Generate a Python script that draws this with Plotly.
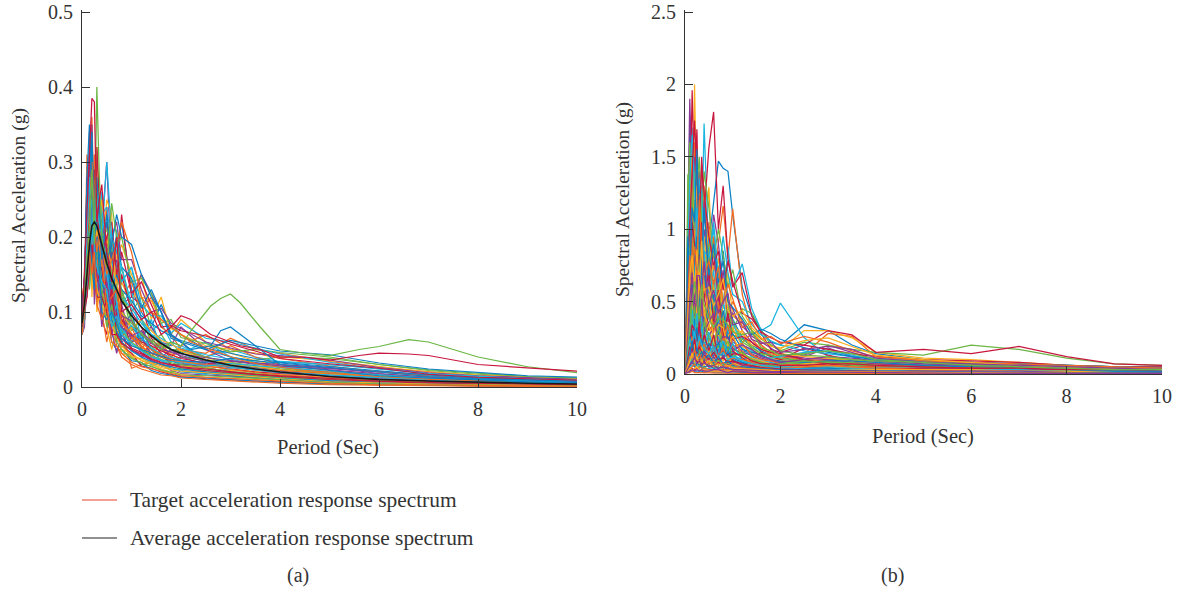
import plotly.graph_objects as go

PERIOD_A = [0,.05,.1,.15,.2,.25,.3,.4,.5,.6,.7,.8,1,1.2,1.4,1.6,1.8,2,2.5,3,3.5,4,5,6,7,8,9,10]
SERIES_A = [
 [.07,.1,.21,.3,.2,.18,.27,.17,.22,.16,.18,.22,.13,.1,.08,.11,.08,.07,.05,.04,.035,.03,.025,.02,.015,.012,.01,.009],
 [.08,.12,.31,.24,.36,.22,.32,.15,.18,.12,.1,.08,.025,.03,.032,.03,.025,.022,.02,.017,.014,.012,.008,.006,.005,.004,.003,.003],
 [.07,.11,.19,.28,.21,.25,.17,.24,.13,.15,.12,.14,.11,.15,.09,.12,.07,.09,.06,.045,.035,.028,.02,.014,.01,.008,.006,.005],
 [.11,.13,.2,.25,.17,.28,.19,.21,.3,.15,.17,.11,.12,.15,.125,.1,.07,.06,.03,.028,.025,.02,.016,.012,.009,.007,.005,.004],
 [.1,.15,.22,.18,.31,.17,.23,.19,.14,.2,.13,.16,.1,.12,.08,.06,.05,.05,.04,.03,.028,.024,.018,.012,.009,.007,.005,.004],
 [.07,.09,.26,.2,.15,.27,.16,.26,.15,.12,.21,.14,.16,.09,.075,.085,.06,.055,.04,.05,.04,.034,.03,.025,.018,.014,.012,.01],
 [.09,.12,.18,.32,.26,.14,.32,.18,.24,.11,.14,.23,.12,.11,.065,.05,.04,.035,.03,.026,.022,.019,.015,.011,.008,.006,.005,.004],
 [.07,.1,.2,.23,.28,.21,.15,.22,.12,.17,.1,.09,.08,.065,.05,.045,.035,.03,.024,.02,.016,.013,.01,.007,.005,.004,.003,.003],
 [.08,.14,.16,.27,.19,.24,.28,.14,.2,.1,.16,.12,.14,.1,.12,.08,.07,.05,.04,.055,.04,.03,.022,.017,.013,.01,.008,.007],
 [.12,.14,.23,.15,.22,.3,.18,.16,.25,.23,.11,.1,.07,.055,.045,.03,.027,.025,.024,.022,.02,.016,.012,.009,.007,.005,.004,.004],
 [.08,.12,.27,.22,.35,.18,.21,.13,.19,.14,.12,.08,.09,.07,.08,.06,.055,.08,.05,.035,.03,.028,.024,.02,.016,.013,.01,.008],
 [.09,.1,.15,.24,.16,.23,.14,.2,.11,.16,.09,.13,.075,.09,.06,.07,.05,.04,.035,.03,.026,.022,.017,.013,.01,.008,.006,.005],
 [.07,.13,.19,.34,.23,.16,.26,.24,.15,.09,.13,.11,.13,.06,.09,.05,.06,.045,.06,.04,.033,.026,.019,.016,.012,.01,.008,.006],
 [.08,.11,.21,.17,.25,.2,.12,.17,.2,.12,.08,.15,.1,.08,.05,.04,.035,.032,.026,.02,.017,.014,.009,.006,.004,.003,.002,.002],
 [.1,.14,.25,.3,.14,.26,.19,.12,.16,.18,.1,.08,.06,.07,.04,.035,.03,.028,.02,.018,.014,.012,.008,.006,.004,.003,.003,.002],
 [.07,.09,.14,.2,.27,.15,.24,.15,.11,.13,.15,.07,.08,.05,.07,.055,.04,.05,.045,.065,.05,.045,.034,.026,.02,.015,.012,.01],
 [.09,.12,.24,.19,.21,.29,.13,.19,.1,.08,.12,.09,.055,.05,.04,.05,.045,.035,.028,.024,.02,.017,.012,.009,.006,.005,.004,.003],
 [.07,.08,.17,.26,.18,.22,.15,.11,.14,.07,.1,.06,.07,.045,.035,.03,.022,.018,.016,.014,.012,.01,.007,.005,.003,.002,.002,.001],
 [.08,.11,.22,.16,.33,.2,.24,.21,.13,.15,.07,.13,.09,.06,.055,.04,.033,.04,.035,.03,.036,.04,.038,.03,.022,.017,.013,.01],
 [.11,.13,.16,.22,.24,.17,.2,.14,.17,.09,.14,.08,.06,.075,.05,.035,.03,.026,.022,.017,.015,.012,.009,.007,.005,.004,.003,.003],
 [.07,.1,.28,.18,.3,.26,.16,.13,.09,.19,.09,.1,.05,.04,.06,.045,.03,.03,.028,.024,.02,.018,.014,.011,.008,.006,.005,.004],
 [.09,.12,.13,.29,.2,.14,.22,.1,.18,.1,.11,.07,.1,.05,.035,.028,.025,.02,.018,.015,.012,.01,.007,.004,.003,.002,.002,.002],
 [.08,.11,.2,.14,.17,.31,.11,.18,.12,.13,.06,.09,.065,.055,.04,.06,.04,.055,.07,.05,.045,.038,.028,.02,.015,.012,.009,.008],
 [.07,.1,.18,.25,.13,.19,.17,.16,.08,.11,.08,.05,.045,.035,.03,.024,.02,.017,.013,.012,.01,.008,.005,.004,.003,.002,.002,.001],
 [.1,.13,.26,.16,.28,.13,.25,.12,.1,.14,.07,.11,.06,.065,.045,.04,.05,.04,.03,.026,.024,.02,.016,.012,.01,.007,.006,.005],
 [.08,.09,.15,.21,.22,.18,.13,.15,.09,.08,.09,.06,.04,.03,.028,.022,.02,.024,.022,.018,.015,.013,.01,.007,.005,.004,.003,.003],
 [.09,.11,.23,.13,.19,.25,.14,.11,.13,.07,.06,.08,.05,.04,.03,.03,.025,.022,.017,.025,.03,.034,.03,.024,.018,.014,.011,.009],
 [.07,.12,.12,.18,.16,.16,.2,.09,.07,.12,.07,.055,.045,.028,.025,.02,.017,.014,.011,.009,.008,.007,.004,.003,.002,.002,.001,.001],
 [.08,.1,.19,.24,.15,.21,.12,.13,.1,.06,.05,.05,.035,.033,.022,.018,.016,.013,.012,.01,.009,.006,.004,.003,.002,.002,.001,.001],
 [.07,.09,.14,.17,.2,.12,.18,.1,.06,.09,.055,.04,.03,.024,.02,.016,.015,.012,.01,.008,.006,.005,.003,.002,.002,.001,.001,.001],
 [.09,.13,.17,.28,.12,.23,.1,.15,.08,.05,.08,.045,.04,.038,.033,.028,.024,.028,.026,.03,.028,.024,.02,.015,.011,.008,.006,.005],
 [.08,.1,.21,.15,.26,.11,.16,.08,.12,.075,.045,.07,.05,.042,.036,.03,.028,.03,.03,.034,.032,.03,.026,.018,.013,.01,.008,.007],
 [.09,.13,.18,.26,.2,.17,.21,.19,.16,.14,.12,.1,.085,.072,.062,.055,.05,.047,.04,.033,.028,.024,.018,.013,.01,.008,.006,.005],
 [.08,.12,.2,.22,.24,.19,.18,.17,.15,.17,.11,.12,.105,.085,.07,.065,.056,.052,.043,.037,.031,.027,.02,.015,.011,.009,.007,.006],
 [.07,.11,.16,.19,.22,.24,.2,.16,.13,.12,.13,.09,.07,.06,.055,.048,.043,.038,.032,.027,.023,.02,.015,.011,.008,.006,.005,.004],
 [.1,.14,.19,.17,.19,.21,.26,.2,.17,.13,.15,.13,.115,.095,.085,.075,.068,.062,.052,.045,.038,.033,.027,.021,.016,.012,.01,.008],
 [.08,.1,.17,.23,.18,.16,.15,.14,.12,.1,.09,.085,.067,.053,.046,.04,.036,.033,.028,.023,.019,.016,.012,.009,.007,.005,.004,.004],
 [.07,.12,.22,.2,.17,.2,.23,.15,.19,.16,.14,.1,.078,.09,.075,.062,.058,.048,.037,.032,.027,.023,.017,.014,.011,.009,.007,.006],
 [.09,.1,.14,.18,.25,.23,.17,.18,.14,.11,.1,.095,.088,.07,.058,.052,.046,.042,.034,.029,.025,.021,.014,.01,.008,.006,.005,.004],
 [.08,.13,.24,.21,.19,.15,.19,.12,.11,.1,.08,.075,.06,.05,.042,.037,.032,.03,.025,.021,.018,.015,.011,.008,.006,.005,.004,.003],
 [.07,.09,.13,.16,.21,.18,.16,.13,.16,.09,.11,.07,.082,.066,.052,.044,.04,.036,.03,.026,.022,.019,.015,.012,.009,.007,.006,.005],
 [.11,.15,.18,.24,.17,.22,.14,.16,.1,.13,.07,.065,.052,.046,.038,.033,.029,.026,.022,.019,.016,.014,.01,.007,.005,.004,.003,.003],
 [.08,.11,.15,.2,.23,.2,.22,.14,.12,.09,.075,.06,.048,.04,.034,.03,.027,.024,.02,.016,.014,.011,.008,.005,.004,.003,.003,.002],
 [.09,.12,.25,.15,.16,.24,.2,.17,.11,.12,.13,.085,.072,.058,.05,.043,.038,.034,.03,.028,.025,.022,.018,.013,.01,.007,.006,.005],
 [.07,.1,.16,.22,.14,.17,.13,.11,.09,.085,.065,.055,.042,.036,.031,.026,.023,.021,.019,.016,.013,.011,.007,.005,.004,.003,.002,.002],
 [.1,.12,.2,.19,.27,.16,.15,.12,.14,.1,.09,.08,.068,.075,.06,.05,.047,.044,.039,.035,.031,.028,.023,.017,.012,.009,.008,.007],
 [.08,.11,.17,.13,.18,.14,.19,.13,.08,.11,.06,.05,.038,.032,.027,.023,.019,.016,.015,.013,.011,.009,.006,.004,.003,.003,.002,.002],
 [.09,.13,.22,.27,.21,.19,.16,.14,.13,.08,.095,.07,.058,.048,.04,.036,.034,.032,.028,.031,.029,.026,.021,.016,.012,.01,.008,.006],
 [.07,.1,.12,.16,.19,.15,.12,.12,.1,.07,.07,.058,.05,.044,.037,.032,.03,.027,.024,.02,.017,.015,.011,.008,.006,.005,.004,.003],
 [.08,.14,.19,.21,.16,.13,.21,.1,.09,.1,.085,.065,.055,.05,.045,.041,.037,.035,.033,.038,.035,.032,.025,.019,.014,.011,.009,.008],
 [.09,.11,.15,.18,.15,.18,.11,.09,.11,.06,.055,.045,.033,.027,.024,.021,.018,.015,.013,.011,.01,.008,.005,.003,.003,.002,.002,.001],
 [.1,.12,.22,.19,.28,.23,.2,.25,.19,.21,.17,.19,.15,.12,.115,.09,.078,.07,.055,.05,.046,.04,.035,.028,.02,.016,.013,.011],
 [.08,.13,.26,.31,.22,.27,.24,.22,.18,.2,.22,.17,.17,.13,.1,.105,.085,.078,.06,.052,.044,.042,.036,.026,.019,.015,.012,.01],
 [.09,.11,.19,.23,.3,.2,.26,.2,.21,.18,.19,.2,.14,.145,.125,.085,.09,.066,.058,.047,.05,.046,.04,.03,.023,.018,.014,.012],
 [.07,.1,.24,.28,.19,.25,.21,.23,.24,.19,.16,.14,.16,.11,.095,.095,.072,.085,.065,.06,.052,.044,.033,.024,.018,.014,.011,.009],
 [.08,.12,.17,.26,.25,.29,.23,.18,.2,.22,.15,.18,.125,.14,.11,.08,.082,.075,.068,.057,.048,.038,.031,.025,.017,.013,.011,.009],
 [.1,.14,.21,.2,.34,.22,.28,.17,.23,.17,.2,.16,.145,.105,.13,.1,.065,.06,.05,.062,.055,.048,.043,.032,.024,.019,.015,.013],
]
MEAN_A = [.085,.11,.15,.19,.215,.22,.215,.19,.165,.145,.13,.115,.095,.08,.068,.058,.05,.045,.036,.029,.024,.02,.014,.01,.008,.006,.005,.004]

# Curves with distinct features, read on a finer period grid
PERIOD_A_FINE = [0,.05,.1,.15,.2,.25,.3,.35,.4,.5,.6,.7,.8,1,1.2,1.4,1.6,1.8,2,2.2,2.6,2.8,3,3.2,3.6,4,4.5,5,5.6,6,6.6,7,8,9,10]
CYAN_A = [.08,.12,.2,.27,.24,.2,.25,.22,.2,.3,.2,.18,.16,.11,.09,.07,.06,.05,.045,.04,.035,.03,.028,.026,.024,.02,.018,.016,.014,.012,.01,.009,.007,.006,.005]
GREEN_A = [.08,.13,.17,.21,.29,.19,.4,.28,.2,.16,.245,.2,.12,.09,.07,.06,.05,.06,.055,.075,.108,.118,.124,.112,.08,.05,.045,.042,.05,.054,.063,.06,.04,.027,.019]
CRIMSON_A = [.08,.16,.24,.3,.385,.38,.22,.25,.27,.18,.14,.2,.1,.11,.09,.1,.07,.08,.095,.09,.07,.065,.06,.055,.05,.04,.04,.036,.042,.045,.044,.042,.03,.025,.021]
BLUE_A = [.09,.14,.28,.35,.27,.2,.22,.25,.2,.17,.19,.23,.2,.19,.15,.12,.1,.07,.06,.05,.055,.075,.08,.07,.05,.03,.026,.022,.018,.015,.013,.012,.009,.007,.006]
ORANGE_A = [.07,.1,.2,.24,.3,.22,.18,.21,.2,.15,.17,.19,.22,.18,.12,.1,.09,.08,.07,.06,.05,.045,.04,.036,.03,.026,.022,.02,.016,.013,.011,.01,.008,.006,.005]

PERIOD_B = [0,.03,.06,.1,.15,.2,.25,.3,.35,.4,.5,.6,.7,.8,.9,1,1.2,1.4,1.6,1.8,2,2.5,3,3.5,4,5,6,7,8,9,10]
SERIES_B = [
 [0,.3,.8,1.7,1.2,.9,1.5,1.0,.7,1.1,.9,1.2,1.47,1.42,1.4,1.1,.6,.4,.3,.22,.2,.34,.3,.2,.14,.1,.08,.07,.06,.05,.04],
 [0,.2,.5,1.0,1.4,1.1,.7,1.2,.9,.6,1.05,.7,.9,1.16,.8,1.14,.55,.3,.2,.15,.12,.14,.28,.26,.12,.09,.08,.06,.05,.04,.03],
 [0,.4,.9,1.3,.8,2.0,1.1,.8,1.3,.9,1.29,.6,.8,.5,.7,.4,.35,.3,.22,.2,.17,.3,.3,.25,.15,.11,.1,.08,.06,.05,.04],
 [0,.3,1.1,1.9,1.3,1.0,.6,1.4,.8,1.0,.7,1.1,.9,.6,.5,.45,.3,.22,.15,.12,.1,.13,.2,.15,.1,.08,.07,.05,.04,.03,.03],
 [0,.5,1.38,.9,.7,1.2,.9,.5,1.1,.6,.85,.5,.3,.4,.25,.3,.45,.42,.3,.2,.16,.22,.2,.17,.15,.13,.2,.17,.11,.07,.06],
 [0,.2,.6,1.2,1.7,.8,1.2,.7,.9,1.73,.8,1.0,.6,.45,.88,.6,.76,.45,.3,.34,.49,.25,.12,.1,.09,.08,.07,.07,.06,.05,.05],
 [0,.3,.7,1.1,1.96,1.3,1.69,.9,1.5,1.1,1.56,1.81,1.0,1.3,.8,.6,.7,.4,.28,.17,.15,.2,.3,.27,.15,.17,.14,.19,.12,.07,.06],
 [0,.2,.5,.8,1.1,.6,1.0,1.3,.7,.5,.75,.9,.55,.85,.5,.38,.25,.2,.16,.13,.11,.09,.08,.07,.06,.05,.04,.04,.03,.03,.02],
 [0,.15,.4,.9,.6,1.0,.7,.5,.9,.8,.45,.6,.7,.35,.4,.3,.22,.28,.2,.12,.1,.08,.07,.06,.05,.06,.07,.06,.05,.04,.03],
 [0,.3,.65,.5,1.25,.75,.55,1.15,.6,.95,.6,.4,.5,.3,.38,.25,.3,.17,.13,.1,.09,.07,.06,.05,.05,.04,.04,.03,.03,.02,.02],
 [0,.1,.3,.7,.9,.5,.8,.6,.4,.7,.55,.65,.3,.42,.33,.2,.16,.14,.11,.09,.08,.12,.18,.12,.07,.05,.04,.03,.03,.02,.02],
 [0,.25,.55,.85,.45,.95,.4,.75,.5,.35,.65,.3,.4,.28,.3,.37,.22,.18,.14,.1,.08,.07,.06,.05,.04,.03,.03,.02,.02,.02,.01],
 [0,.15,.35,.6,.75,.35,.65,.45,.7,.3,.4,.5,.25,.33,.2,.22,.18,.12,.09,.08,.06,.05,.05,.05,.04,.04,.03,.03,.02,.02,.02],
 [0,.2,.45,.3,.65,.55,.3,.85,.35,.55,.3,.35,.45,.2,.26,.18,.14,.1,.15,.12,.1,.18,.13,.09,.07,.06,.05,.04,.03,.03,.02],
 [0,.1,.25,.5,.35,.7,.5,.3,.6,.25,.5,.25,.3,.18,.3,.15,.12,.11,.08,.07,.05,.04,.04,.03,.03,.03,.02,.02,.02,.01,.01],
 [0,.12,.3,.4,.55,.3,.45,.55,.25,.45,.22,.38,.2,.27,.15,.2,.1,.09,.07,.06,.06,.05,.04,.04,.03,.03,.02,.02,.02,.01,.01],
 [0,.08,.2,.35,.25,.5,.25,.4,.3,.2,.35,.18,.28,.14,.22,.12,.16,.08,.06,.05,.05,.07,.09,.07,.05,.04,.03,.03,.02,.02,.01],
 [0,.1,.18,.28,.4,.22,.38,.2,.35,.3,.15,.25,.13,.2,.12,.25,.12,.07,.05,.05,.04,.03,.03,.03,.02,.02,.02,.01,.01,.01,.01],
 [0,.06,.15,.22,.18,.33,.18,.28,.15,.25,.18,.12,.2,.1,.18,.09,.07,.1,.06,.04,.04,.03,.03,.02,.02,.02,.01,.01,.01,.01,.01],
 [0,.08,.12,.25,.3,.15,.27,.13,.22,.12,.22,.1,.16,.24,.08,.14,.08,.06,.04,.04,.03,.03,.04,.04,.03,.03,.03,.02,.02,.02,.01],
 [0,.05,.1,.18,.14,.25,.12,.2,.1,.18,.1,.15,.08,.12,.16,.08,.06,.05,.04,.03,.03,.02,.02,.02,.02,.01,.01,.01,.01,.01,.01],
 [0,.04,.09,.13,.2,.1,.16,.11,.17,.08,.14,.07,.11,.07,.1,.06,.05,.04,.03,.03,.02,.02,.02,.02,.01,.01,.01,.01,.01,.01,.01],
 [0,.05,.07,.1,.12,.18,.09,.14,.07,.12,.06,.1,.14,.19,.13,.1,.05,.09,.07,.05,.04,.04,.05,.06,.05,.04,.03,.03,.02,.02,.01],
 [0,.03,.06,.09,.15,.08,.12,.06,.1,.06,.09,.05,.09,.05,.07,.05,.12,.07,.05,.03,.03,.02,.02,.01,.01,.01,.01,.01,.01,.005,.005],
 [0,.04,.05,.07,.1,.13,.07,.1,.05,.08,.05,.07,.04,.06,.04,.04,.03,.03,.03,.02,.02,.02,.01,.01,.01,.01,.01,.01,.005,.005,.005],
 [0,.02,.04,.06,.08,.06,.09,.05,.07,.04,.06,.04,.05,.03,.04,.03,.03,.02,.02,.02,.02,.01,.01,.01,.01,.01,.005,.005,.005,.005,.005],
 [0,.02,.03,.05,.06,.05,.06,.04,.05,.03,.04,.03,.03,.03,.03,.02,.02,.02,.02,.01,.01,.01,.01,.01,.005,.005,.005,.005,.004,.004,.003],
 [0,.02,.02,.03,.04,.03,.04,.03,.03,.02,.03,.02,.02,.02,.02,.02,.01,.01,.01,.01,.01,.01,.005,.005,.005,.004,.004,.003,.003,.002,.002],
 [0,.01,.02,.02,.03,.02,.02,.02,.02,.01,.02,.01,.01,.01,.01,.01,.01,.01,.005,.005,.005,.005,.004,.004,.003,.003,.002,.002,.002,.002,.001],
 [0,.01,.01,.01,.02,.01,.01,.01,.01,.01,.01,.01,.005,.005,.005,.005,.005,.004,.004,.004,.003,.003,.003,.002,.002,.002,.002,.001,.001,.001,.001],
 [0,.2,.3,.45,.3,.85,.42,.5,.65,.42,.32,.45,.23,.35,.26,.32,.19,.15,.12,.11,.09,.1,.11,.08,.08,.07,.06,.05,.04,.04,.03],
 [0,.15,.25,.32,.5,.28,.6,.36,.48,.33,.27,.31,.36,.24,.3,.24,.15,.13,.1,.09,.07,.06,.06,.06,.06,.05,.05,.04,.03,.03,.02],
 [0,.08,.16,.24,.36,.42,.23,.32,.22,.38,.2,.24,.18,.3,.17,.17,.14,.1,.08,.06,.06,.08,.1,.1,.08,.07,.05,.04,.04,.03,.02],
 [0,.12,.22,.42,.27,.36,.33,.25,.42,.17,.26,.16,.26,.16,.21,.13,.1,.12,.09,.08,.07,.05,.05,.04,.04,.03,.03,.03,.02,.02,.02],
 [0,.06,.13,.19,.28,.2,.3,.17,.27,.15,.2,.2,.12,.16,.13,.16,.11,.07,.06,.05,.05,.04,.04,.03,.03,.02,.02,.02,.02,.01,.01],
 [0,.1,.2,.15,.24,.38,.16,.24,.14,.22,.13,.13,.17,.12,.2,.11,.08,.06,.05,.06,.08,.1,.07,.05,.04,.03,.03,.02,.02,.02,.01],
 [0,.35,.95,1.5,1.0,1.6,.8,1.25,.95,1.3,.7,.95,.45,.65,.4,.5,.36,.24,.17,.14,.12,.1,.09,.07,.07,.06,.05,.05,.04,.03,.03],
 [0,.25,.7,1.15,1.55,.7,1.4,.6,1.2,.75,1.0,.55,.75,.38,.55,.33,.28,.2,.18,.16,.14,.12,.11,.1,.08,.07,.06,.05,.05,.04,.04],
 [0,.4,1.0,.75,1.35,1.5,.85,1.1,.55,1.2,.6,.85,.5,.72,.36,.42,.33,.26,.22,.18,.13,.11,.1,.08,.07,.06,.06,.05,.04,.04,.03],
 [0,.18,.55,.95,.7,1.2,1.05,.65,1.0,.65,.9,.42,.62,.3,.48,.27,.24,.19,.14,.13,.11,.09,.08,.08,.06,.05,.05,.04,.04,.03,.03],
 [0,.28,.6,1.25,.85,.65,1.15,.95,.55,.85,.5,.72,.35,.52,.28,.35,.2,.16,.12,.11,.12,.15,.16,.13,.09,.07,.06,.05,.04,.03,.03],
 [0,.22,.75,.6,1.05,.9,.6,.8,1.05,.5,.72,.36,.58,.25,.42,.24,.26,.22,.17,.15,.14,.1,.07,.06,.05,.05,.04,.04,.03,.03,.02],
 [0,.32,.42,.78,.55,.8,.95,.42,.78,.72,.38,.55,.27,.44,.24,.28,.17,.15,.13,.1,.09,.08,.09,.09,.08,.06,.05,.04,.04,.03,.03],
 [0,.13,.38,.55,.95,.45,.72,.62,.4,.62,.42,.28,.48,.22,.34,.19,.21,.13,.1,.09,.07,.06,.06,.05,.05,.04,.04,.03,.03,.02,.02],
 [0,.17,.28,.65,.42,.62,.35,.7,.45,.4,.56,.22,.34,.32,.19,.26,.13,.11,.09,.07,.06,.05,.05,.04,.04,.03,.03,.02,.02,.02,.02],
 [0,.09,.33,.38,.6,.4,.55,.26,.52,.28,.36,.42,.21,.26,.25,.16,.2,.17,.12,.1,.08,.1,.12,.11,.09,.07,.06,.05,.04,.03,.02],
 [0,.14,.24,.48,.33,.47,.29,.46,.2,.36,.25,.2,.32,.17,.23,.12,.15,.1,.08,.06,.07,.09,.08,.06,.06,.05,.04,.04,.03,.02,.02],
 [0,.07,.17,.3,.45,.26,.42,.22,.33,.19,.29,.17,.15,.23,.14,.21,.09,.08,.07,.05,.05,.05,.05,.05,.04,.04,.03,.03,.03,.02,.02],
 [0,.11,.21,.2,.34,.3,.2,.36,.18,.27,.16,.27,.12,.15,.11,.14,.13,.09,.07,.07,.06,.06,.07,.07,.06,.05,.04,.03,.03,.02,.02],
 [0,.06,.11,.26,.21,.24,.32,.15,.24,.14,.21,.14,.22,.11,.15,.1,.07,.06,.05,.04,.04,.04,.03,.03,.03,.02,.02,.02,.01,.01,.01],
 [0,.04,.14,.16,.26,.17,.14,.23,.13,.21,.12,.19,.1,.18,.09,.11,.1,.08,.06,.05,.03,.03,.03,.04,.04,.03,.03,.02,.02,.02,.01],
 [0,.05,.08,.21,.11,.2,.22,.09,.19,.1,.16,.08,.13,.09,.12,.07,.06,.07,.05,.04,.04,.05,.06,.05,.03,.03,.02,.02,.02,.01,.01],
 [0,.03,.1,.12,.17,.12,.19,.12,.12,.16,.08,.12,.07,.13,.06,.09,.06,.05,.04,.03,.03,.03,.02,.03,.03,.03,.02,.02,.01,.01,.01],
 [0,.04,.06,.11,.09,.16,.1,.17,.08,.11,.11,.06,.1,.06,.08,.05,.05,.04,.03,.03,.02,.02,.03,.03,.02,.02,.02,.02,.02,.01,.01],
 [0,.02,.05,.08,.13,.07,.14,.08,.11,.07,.07,.09,.06,.08,.05,.07,.04,.03,.03,.02,.02,.03,.04,.04,.04,.03,.03,.03,.02,.02,.02],
 [0,.02,.04,.07,.07,.11,.08,.1,.06,.09,.05,.05,.08,.04,.06,.04,.04,.03,.03,.02,.02,.02,.02,.02,.03,.04,.04,.04,.03,.03,.02],
 [0,.03,.03,.06,.09,.05,.07,.07,.04,.05,.06,.04,.04,.05,.03,.03,.03,.03,.02,.02,.03,.04,.04,.03,.03,.02,.02,.02,.02,.02,.02],
 [0,.01,.03,.04,.05,.07,.04,.05,.04,.04,.03,.03,.03,.03,.03,.02,.02,.02,.02,.03,.04,.05,.06,.05,.04,.03,.02,.02,.01,.01,.01],
 [0,.02,.02,.04,.03,.04,.05,.03,.03,.03,.02,.02,.02,.02,.02,.03,.03,.03,.03,.02,.02,.02,.03,.03,.03,.03,.03,.02,.02,.01,.01],
 [0,.01,.01,.02,.03,.02,.03,.02,.03,.02,.02,.03,.03,.02,.01,.02,.02,.01,.01,.01,.01,.02,.02,.02,.02,.02,.02,.02,.01,.01,.01],
 [0,.45,1.2,1.6,1.1,1.4,1.3,1.5,1.05,1.4,1.15,.8,1.0,.82,.6,.72,.4,.3,.24,.2,.16,.13,.12,.1,.09,.08,.07,.06,.05,.04,.04],
 [0,.3,.85,1.35,1.65,1.25,.95,1.35,1.25,.85,.8,1.05,.68,.95,.7,.55,.5,.34,.27,.23,.2,.16,.14,.12,.11,.09,.08,.07,.06,.05,.04],
 [0,.38,.75,1.05,1.45,1.75,1.35,1.05,1.45,1.25,.95,.75,.85,.58,.78,.64,.42,.38,.29,.25,.22,.2,.17,.14,.12,.1,.09,.08,.06,.05,.05],
 [0,.26,.95,.65,1.15,1.05,1.55,.85,.75,1.15,.68,.9,.63,.78,.5,.46,.38,.27,.31,.28,.24,.18,.15,.12,.1,.09,.08,.07,.06,.05,.04],
 [0,.2,.48,.82,.62,.88,.78,1.2,.85,.68,.78,.62,.74,.48,.62,.52,.32,.36,.24,.26,.21,.26,.22,.16,.12,.09,.08,.07,.06,.05,.04],
 [0,.16,.35,.68,.82,.58,.86,.58,.92,.58,.6,.47,.55,.66,.44,.4,.44,.32,.25,.19,.18,.23,.25,.19,.13,.1,.08,.06,.05,.04,.03],
 [0,.12,.27,.52,.7,.48,.68,.68,.55,.78,.48,.58,.42,.5,.56,.34,.36,.24,.21,.22,.15,.17,.19,.17,.11,.08,.07,.06,.05,.04,.03],
 [0,.1,.22,.36,.48,.64,.5,.38,.62,.48,.38,.32,.38,.38,.34,.29,.27,.29,.18,.16,.13,.14,.16,.14,.1,.08,.06,.05,.04,.03,.03],
 [0,.07,.15,.24,.2,.3,.18,.26,.2,.17,.14,.19,.12,.15,.1,.12,.09,.07,.06,.05,.04,.035,.03,.025,.02,.015,.012,.01,.008,.007,.006],
 [0,.05,.11,.19,.16,.24,.14,.19,.15,.13,.1,.15,.1,.11,.08,.09,.07,.055,.045,.04,.033,.028,.024,.02,.017,.013,.01,.008,.007,.006,.005],
 [0,.04,.09,.14,.23,.13,.18,.11,.16,.1,.13,.08,.12,.07,.09,.06,.05,.045,.035,.03,.028,.025,.022,.018,.015,.012,.009,.007,.006,.005,.004],
 [0,.03,.07,.12,.11,.17,.1,.14,.09,.12,.07,.09,.06,.08,.05,.07,.04,.035,.03,.026,.024,.02,.018,.015,.012,.01,.008,.006,.005,.004,.003],
 [0,.02,.05,.09,.14,.08,.12,.07,.1,.06,.09,.05,.07,.05,.06,.04,.035,.03,.028,.022,.02,.017,.015,.013,.011,.009,.007,.005,.004,.003,.003],
 [0,.02,.04,.06,.08,.12,.07,.09,.06,.08,.05,.06,.04,.05,.04,.03,.03,.025,.02,.018,.017,.015,.013,.011,.009,.007,.005,.004,.003,.003,.002],
]

COLORS = ["#0a7fc4", "#f26a21", "#fcae1e", "#8b3a96", "#6bb644", "#19b5e0", "#c8173f"]
INK = "#333333"
FONT = "Liberation Serif"
LINE_W = 1.25

fig = go.Figure()
for i, s in enumerate(SERIES_A):
    fig.add_trace(go.Scatter(x=PERIOD_A, y=s, mode="lines", xaxis="x", yaxis="y", showlegend=False,
                             line=dict(color=COLORS[i % 7], width=LINE_W)))
for s, c in ((ORANGE_A, COLORS[1]), (CYAN_A, COLORS[5]), (BLUE_A, COLORS[0]), (GREEN_A, COLORS[4]), (CRIMSON_A, COLORS[6])):
    fig.add_trace(go.Scatter(x=PERIOD_A_FINE, y=s, mode="lines", xaxis="x", yaxis="y", showlegend=False,
                             line=dict(color=c, width=LINE_W)))
fig.add_trace(go.Scatter(x=PERIOD_A, y=MEAN_A, mode="lines", xaxis="x", yaxis="y", showlegend=False,
                         line=dict(color="#1a1a1a", width=1.6)))
for i, s in enumerate(SERIES_B):
    fig.add_trace(go.Scatter(x=PERIOD_B, y=s, mode="lines", xaxis="x2", yaxis="y2", showlegend=False,
                             line=dict(color=COLORS[i % 7], width=LINE_W)))

W, H = 1181, 593
def px(v): return v / W
def py(v): return 1 - v / H

tick_font = dict(family=FONT, size=20, color=INK)
common = dict(showgrid=False, zeroline=False, showline=True, linecolor=INK, linewidth=1, automargin=False,
              ticks="inside", ticklen=8, tickwidth=1, tickcolor=INK, tickfont=tick_font, ticklabelstandoff=4)
y_title_font = dict(family=FONT, size=19.5, color=INK)
x_title_font = dict(family=FONT, size=20.5, color=INK)
legend_font = dict(family=FONT, size=21.4, color=INK)
cap_font = dict(family=FONT, size=20, color=INK)

def text(t, x, y, font, anchor="center", angle=0):
    return dict(text=t, xref="paper", yref="paper", x=px(x), y=py(y), xanchor=anchor, yanchor="middle",
                showarrow=False, font=font, textangle=angle)

# Each y range runs 2 px past the top tick: Plotly drops inside ticks sitting on the axis end.
fig.update_layout(
    width=W, height=H, margin=dict(l=0, r=0, t=0, b=0), autosize=False,
    paper_bgcolor="white", plot_bgcolor="white", showlegend=False,
    font=dict(family=FONT, color=INK),
    xaxis=dict(domain=[px(82), px(577)], range=[0, 10], tickvals=[0,2,4,6,8,10], anchor="y", **common),
    yaxis=dict(domain=[py(387), py(10)], range=[0, .50267], tickvals=[0,.1,.2,.3,.4,.5],
               ticktext=["0","0.1","0.2","0.3","0.4","0.5"], anchor="x", ticklabeloverflow="allow", **common),
    xaxis2=dict(domain=[px(685), px(1162)], range=[0, 10], tickvals=[0,2,4,6,8,10], anchor="y2", **common),
    yaxis2=dict(domain=[py(374), py(10)], range=[0, 2.5138], tickvals=[0,.5,1,1.5,2,2.5],
                ticktext=["0","0.5","1","1.5","2","2.5"], anchor="x2", ticklabeloverflow="allow", **common),
    shapes=[
        dict(type="line", xref="paper", yref="paper", x0=px(82), x1=px(117), y0=py(500), y1=py(500),
             line=dict(color="#e8452c", width=1.2)),
        dict(type="line", xref="paper", yref="paper", x0=px(82), x1=px(117), y0=py(538), y1=py(538),
             line=dict(color="#222222", width=1.2)),
    ],
    annotations=[
        text("Spectral Acceleration (g)", 19, 206, y_title_font, angle=-90),
        text("Spectral Acceleration (g)", 623, 200, y_title_font, angle=-90),
        text("Period (Sec)", 328, 447, x_title_font),
        text("Period (Sec)", 923, 436, x_title_font),
        text("Target acceleration response spectrum", 128, 500, legend_font, "left"),
        text("Average acceleration response spectrum", 128, 538, legend_font, "left"),
        text("(a)", 298, 575, cap_font),
        text("(b)", 892, 575, cap_font),
    ],
)
# Remove the page's default body margin so the figure fills the browser window exactly.
fig.write_html("out.html", config={"displayModeBar": False},
               post_script="document.body.style.margin='0';")
